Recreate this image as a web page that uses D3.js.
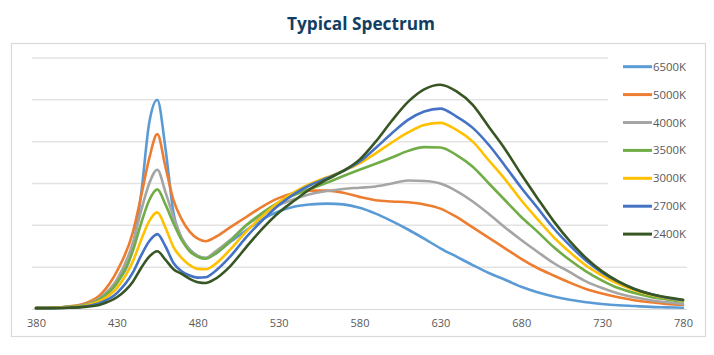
<!DOCTYPE html>
<html>
<head>
<meta charset="utf-8">
<script src="https://cdn.jsdelivr.net/npm/d3@7"></script>
<style>
  html, body { margin: 0; padding: 0; background: #fff; }
  svg { display: block; }
</style>
</head>
<body>
<svg id="chart" width="714" height="355"></svg>
<script>
const title = "Typical Spectrum";
const wavelengths = [380,390,400,410,420,430,440,445,450,455,460,465,470,475,480,485,490,500,510,520,530,540,550,560,570,580,590,600,610,620,630,640,650,660,670,680,690,700,710,720,730,740,750,760,770,780];
const xTicks = [380,430,480,530,580,630,680,730,780];
const seriesNames = ["6500K","5000K","4000K","3500K","3000K","2700K","2400K"];
const seriesColors = ["#5B9BD5","#ED7D31","#A5A5A5","#70AD47","#FFC000","#4472C4","#375623"];

const s6500 = [0.02,0.03,0.05,0.1,0.25,0.62,1.5,2.75,4.45,5.0,3.85,2.3,1.7,1.42,1.27,1.22,1.3,1.6,1.88,2.15,2.33,2.45,2.5,2.52,2.5,2.42,2.28,2.1,1.9,1.68,1.45,1.25,1.05,0.86,0.7,0.53,0.4,0.3,0.22,0.16,0.12,0.09,0.07,0.05,0.04,0.03];
const s5000 = [0.02,0.03,0.06,0.13,0.35,0.9,1.85,2.7,3.6,4.18,3.4,2.6,2.15,1.85,1.68,1.62,1.7,1.95,2.2,2.45,2.65,2.78,2.83,2.83,2.78,2.68,2.6,2.57,2.55,2.5,2.4,2.2,1.95,1.7,1.45,1.2,0.98,0.8,0.63,0.48,0.37,0.28,0.21,0.16,0.12,0.1];
const s4000 = [0.02,0.03,0.05,0.1,0.28,0.7,1.6,2.35,3.0,3.33,2.8,2.2,1.7,1.42,1.27,1.22,1.35,1.65,2.0,2.25,2.48,2.63,2.75,2.82,2.87,2.9,2.93,3.0,3.07,3.06,3.0,2.82,2.57,2.27,1.95,1.65,1.37,1.1,0.88,0.66,0.5,0.37,0.28,0.21,0.16,0.12];
const s3500 = [0.02,0.03,0.05,0.09,0.25,0.62,1.4,2.05,2.6,2.86,2.5,2.05,1.65,1.38,1.25,1.2,1.3,1.62,2.0,2.3,2.55,2.73,2.88,3.02,3.18,3.33,3.47,3.62,3.78,3.87,3.86,3.68,3.4,3.0,2.6,2.2,1.85,1.48,1.17,0.9,0.68,0.5,0.38,0.29,0.23,0.18];
const s3000 = [0.02,0.03,0.04,0.08,0.2,0.5,1.15,1.65,2.1,2.31,1.95,1.48,1.22,1.05,0.96,0.95,1.05,1.42,1.85,2.22,2.55,2.8,3.0,3.15,3.3,3.48,3.72,3.98,4.22,4.4,4.45,4.28,4.0,3.55,3.1,2.6,2.15,1.72,1.36,1.04,0.8,0.6,0.45,0.34,0.26,0.2];
const s2700 = [0.02,0.02,0.03,0.06,0.15,0.38,0.88,1.28,1.62,1.79,1.5,1.1,0.9,0.8,0.75,0.76,0.88,1.25,1.72,2.12,2.48,2.76,2.97,3.13,3.3,3.52,3.85,4.2,4.52,4.72,4.79,4.6,4.33,3.92,3.42,2.9,2.42,1.93,1.52,1.16,0.87,0.65,0.48,0.36,0.27,0.21];
const s2400 = [0.02,0.02,0.03,0.05,0.11,0.28,0.66,0.98,1.25,1.38,1.18,0.95,0.84,0.72,0.64,0.62,0.7,1.02,1.48,1.92,2.3,2.6,2.88,3.1,3.3,3.57,4.0,4.5,4.95,5.25,5.36,5.2,4.88,4.35,3.82,3.22,2.65,2.1,1.62,1.22,0.9,0.66,0.48,0.36,0.28,0.22];
const seriesValues = [s6500,s5000,s4000,s3500,s3000,s2700,s2400];
const yGridTicks = [1,2,3,4,5,6];

const svg = d3.select("#chart");
svg.append("rect").attr("width",714).attr("height",355).attr("fill","#fff");

// Title
svg.append("text")
  .attr("x", 361).attr("y", 30)
  .attr("text-anchor","middle")
  .attr("font-family","'Open Sans', sans-serif")
  .attr("font-weight","700")
  .attr("font-size","18px")
  .attr("fill","#123E63")
  .attr("textLength",148).attr("lengthAdjust","spacingAndGlyphs")
  .text(title);

// Frame
svg.append("rect")
  .attr("x",11.5).attr("y",43.5).attr("width",694).attr("height",293)
  .attr("fill","none").attr("stroke","#D9D9D9").attr("stroke-width",1.2);

const x = d3.scaleLinear().domain([380,780]).range([36,683]);
const y = d3.scaleLinear().domain([0,6]).range([309,58]);

// gridlines
svg.append("g").selectAll("line").data(yGridTicks).join("line")
  .attr("x1",32).attr("x2",687)
  .attr("y1",d=>y(d)).attr("y2",d=>y(d))
  .attr("stroke","#E3E3E3").attr("stroke-width",1.5);

// x axis
const xAxis = d3.axisBottom(x).tickValues(xTicks).tickSize(0).tickPadding(10);
const gx = svg.append("g").attr("transform",`translate(0,${y(0)})`).call(xAxis);
gx.select(".domain").remove();
svg.append("line").attr("x1",32).attr("x2",687).attr("y1",y(0)+0.5).attr("y2",y(0)+0.5)
  .attr("stroke","#D9D9D9").attr("stroke-width",1.2);
gx.selectAll("text")
  .attr("font-family","'Open Sans', sans-serif")
  .attr("font-size","11px")
  .attr("fill","#595959");

// lines
const line = d3.line()
  .x((d,i)=>x(wavelengths[i]))
  .y(d=>y(d))
  .curve(d3.curveMonotoneX);

svg.append("g").selectAll("path").data(seriesValues).join("path")
  .attr("d", d=>line(d))
  .attr("fill","none")
  .attr("stroke",(d,i)=>seriesColors[i])
  .attr("stroke-width",2.6)
  .attr("stroke-linejoin","round")
  .attr("stroke-linecap","round");

// legend
svg.append("rect").attr("x",608).attr("y",50).attr("width",88).attr("height",198).attr("fill","#fff");
const lg = svg.append("g").selectAll("g").data(seriesNames).join("g")
  .attr("transform",(d,i)=>`translate(623,${66.7 + i*27.9})`);
lg.append("line").attr("x1",0).attr("x2",29).attr("y1",0).attr("y2",0)
  .attr("stroke",(d,i)=>seriesColors[i]).attr("stroke-width",3);
lg.append("text").attr("x",30).attr("y",4)
  .attr("font-family","'Open Sans', sans-serif")
  .attr("font-size","11px")
  .attr("fill","#595959")
  .attr("textLength",33).attr("lengthAdjust","spacingAndGlyphs")
  .text(d=>d);
</script>
</body>
</html>
